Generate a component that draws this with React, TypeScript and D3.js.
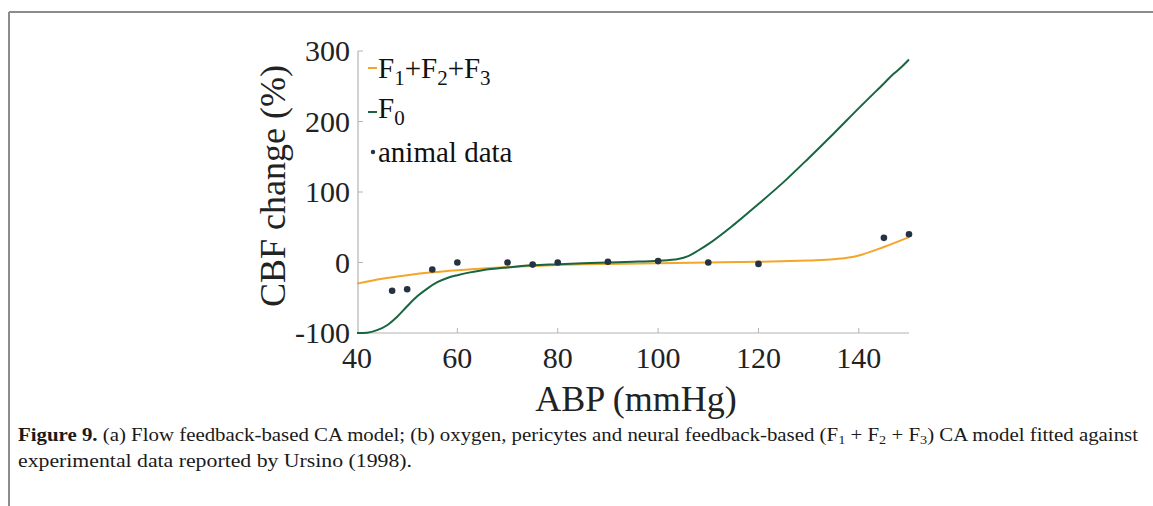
import React from "react";
import * as d3 from "d3";

const xTicks = [40, 60, 80, 100, 120, 140];
const yTicks = [-100, 0, 100, 200, 300];

const f0ABP = [40, 42, 44, 46, 48, 50, 52, 54, 56, 58, 60, 65, 70, 75, 80, 85, 90, 95, 100, 104, 106, 108, 110, 115, 120, 125, 130, 135, 140, 145, 147, 148, 150];
const f0Val = [-100, -99.5, -96, -89, -77, -62, -48, -37, -28, -22, -18, -11, -7, -4, -2.5, -1, 0, 1, 2.5, 5, 9, 17, 26, 53, 83, 114, 148, 183, 219, 254, 268, 274, 288];

const f123ABP = [40, 45, 50, 55, 60, 65, 70, 75, 80, 90, 100, 110, 120, 130, 135, 138, 140, 145, 150];
const f123Val = [-30, -23, -18, -14, -11, -8.5, -6.5, -5, -3.5, -2, -1, 0, 1, 3, 4.5, 7, 10, 22, 36];

const dataABP = [47, 50, 55, 60, 70, 75, 80, 90, 100, 110, 120, 145, 150];
const dataVal = [-40, -38, -10, 0, 0, -3, 0, 1, 2, 0, -2, 35, 40];

const ORANGE = "#f5a52a";
const GREEN = "#17663f";
const DOT = "#243242";
const AXIS = "#b4b4b4";
const SERIF = "'Liberation Serif', 'Times New Roman', serif";

export default function App() {
  const x = d3.scaleLinear().domain([40, 150]).range([357, 909]);
  const y = d3.scaleLinear().domain([-100, 300]).range([333, 51]);
  const line = d3
    .line<[number, number]>()
    .x((d) => x(d[0]))
    .y((d) => y(d[1]))
    .curve(d3.curveMonotoneX);
  const f0 = f0ABP.map((a, i) => [a, f0Val[i]] as [number, number]);
  const f123 = f123ABP.map((a, i) => [a, f123Val[i]] as [number, number]);

  const x0 = x(40);
  const y0 = y(-100);

  return (
    <svg
      width={1153}
      height={506}
      style={{ position: "absolute", left: 0, top: 0, background: "#fff" }}
      fontFamily={SERIF}
    >
      {/* frame */}
      <line x1={9} y1={12} x2={1153} y2={12} stroke="#8c8c8c" strokeWidth={2} />
      <line x1={9} y1={12} x2={9} y2={506} stroke="#8c8c8c" strokeWidth={2} />

      {/* axes */}
      <line x1={x0} y1={y0} x2={x(150)} y2={y0} stroke={AXIS} strokeWidth={1.2} />
      <line x1={x0 + 1} y1={y0} x2={x0 + 1} y2={y(300)} stroke={AXIS} strokeWidth={1.2} />
      {xTicks.map((t) => (
        <g key={"xt" + t}>
          {t !== 40 && <line x1={x(t)} x2={x(t)} y1={y0} y2={y0 - 5} stroke={AXIS} strokeWidth={1} />}
          <text x={x(t)} y={368} textAnchor="middle" fontSize={30} fill="#222">
            {t}
          </text>
        </g>
      ))}
      {yTicks.map((t) => (
        <g key={"yt" + t}>
          {t !== -100 && <line x1={x0 + 1} x2={x0 + 6} y1={y(t)} y2={y(t)} stroke={AXIS} strokeWidth={1} />}
          <text x={350} y={y(t) + 10} textAnchor="end" fontSize={30} fill="#222">
            {t}
          </text>
        </g>
      ))}

      {/* axis titles */}
      <text x={636} y={411} textAnchor="middle" fontSize={36} fill="#222">
        ABP (mmHg)
      </text>
      <text
        transform={`translate(285,186) rotate(-90)`}
        textAnchor="middle"
        fontSize={36}
        fill="#222"
      >
        CBF change (%)
      </text>

      {/* curves */}
      <path d={line(f123) || ""} fill="none" stroke={ORANGE} strokeWidth={2} />
      <path d={line(f0) || ""} fill="none" stroke={GREEN} strokeWidth={2} />
      {dataABP.map((a, i) => (
        <circle key={"d" + i} cx={x(a)} cy={y(dataVal[i])} r={3.3} fill={DOT} />
      ))}

      {/* legend */}
      <line x1={368} x2={377} y1={68} y2={68} stroke={ORANGE} strokeWidth={2} />
      <text x={378} y={78} fontSize={29} fill="#111">
        F<tspan fontSize={21} dy={7}>1</tspan>
        <tspan dy={-7}>+F</tspan>
        <tspan fontSize={21} dy={7}>2</tspan>
        <tspan dy={-7}>+F</tspan>
        <tspan fontSize={21} dy={7}>3</tspan>
      </text>
      <line x1={368} x2={377} y1={112} y2={112} stroke={GREEN} strokeWidth={2} />
      <text x={378} y={118} fontSize={29} fill="#111">
        F<tspan fontSize={21} dy={7}>0</tspan>
      </text>
      <circle cx={373} cy={152} r={2.2} fill={DOT} />
      <text x={378} y={162} fontSize={29} fill="#111">
        animal data
      </text>

      {/* caption */}
      <text x={18} y={441} fontSize={19} fill="#1a1a1a" textLength={1120} lengthAdjust="spacingAndGlyphs">
        <tspan fontWeight="bold">Figure 9.</tspan> (a) Flow feedback-based CA model; (b) oxygen, pericytes and neural feedback-based (F
        <tspan fontSize={13} dy={3}>1</tspan>
        <tspan dy={-3}> + F</tspan>
        <tspan fontSize={13} dy={3}>2</tspan>
        <tspan dy={-3}> + F</tspan>
        <tspan fontSize={13} dy={3}>3</tspan>
        <tspan dy={-3}>) CA model fitted against</tspan>
      </text>
      <text x={18} y={467} fontSize={19} fill="#1a1a1a" textLength={394} lengthAdjust="spacingAndGlyphs">
        experimental data reported by Ursino (1998).
      </text>
    </svg>
  );
}
